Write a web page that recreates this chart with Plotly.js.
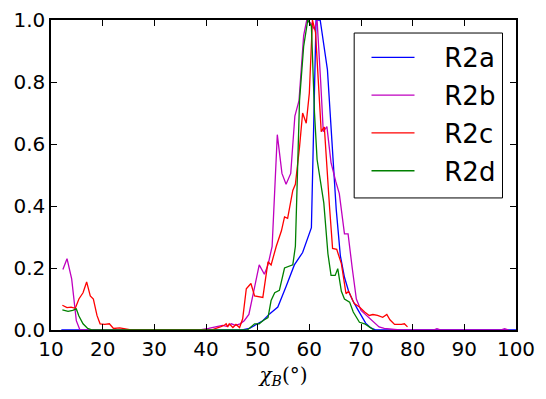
<!DOCTYPE html>
<html>
<head>
<meta charset="utf-8">
<script src="https://cdn.plot.ly/plotly-3.0.1.min.js"></script>
<style>
  html, body { margin: 0; padding: 0; background: #fff; }
  #plot { width: 546px; height: 399px; }
</style>
</head>
<body>
<div id="plot"></div>
<script>
// Values (chi_B in degrees, normalised counts)
let seriesNames = ["R2a", "R2b", "R2c", "R2d"]
let seriesColors = ["#0000ff", "#bf00bf", "#ff0000", "#008000"]

let r2aX = [12, 47, 48.4, 49.4, 51.0, 52.3, 53.9, 55.5, 57.1, 58.7, 60.4, 61.3, 62.1, 63.5, 64.4, 65.2, 66.0, 66.8, 67.6, 68.4, 69.3, 70.1, 70.9, 71.8, 72.9, 100]
let r2aY = [0, 0, 0.005, 0.015, 0.03, 0.052, 0.074, 0.14, 0.21, 0.25, 0.33, 1.0, 1.0, 0.84, 0.6, 0.39, 0.24, 0.17, 0.125, 0.095, 0.068, 0.045, 0.022, 0.008, 0, 0]

let r2bX = [12.3, 13.1, 14.0, 14.9, 15.6, 38.8, 40.5, 41.5, 42.3, 43.2, 44.0, 44.9, 45.7, 46.6, 47.4, 48.3, 49.4, 50.3, 51.3, 52.0, 52.8, 53.8, 54.7, 55.5, 56.4, 57.2, 58.0, 58.9, 59.5, 60.3, 61.0, 61.5, 62.2, 62.7, 63.4, 64.2, 65.1, 65.8, 66.8, 67.5, 68.3, 69.1, 70.0, 70.9, 71.9, 72.9, 73.5, 74.5, 76.2, 77.5, 84.0, 84.7, 85.5, 97.0, 97.8, 98.6]
let r2bY = [0.195, 0.23, 0.165, 0.03, 0, 0, 0.005, 0.01, 0.012, 0.015, 0.012, 0.02, 0.015, 0.02, 0.03, 0.05, 0.14, 0.21, 0.18, 0.21, 0.27, 0.63, 0.505, 0.47, 0.505, 0.69, 0.74, 0.95, 1.0, 0.99, 0.97, 1.0, 0.8, 0.64, 0.656, 0.54, 0.48, 0.44, 0.31, 0.31, 0.2, 0.1, 0.063, 0.05, 0.036, 0.02, 0.01, 0.005, 0.003, 0, 0, 0.004, 0, 0, 0.004, 0]

let r2cX = [12.2, 13.1, 13.9, 14.7, 15.4, 16.2, 16.9, 17.6, 18.2, 18.9, 19.5, 20.4, 21.3, 22.1, 23.3, 24.6, 25.5, 41.0, 42.0, 42.9, 43.6, 43.9, 44.2, 44.5, 45.2, 45.8, 46.5, 47.1, 47.8, 48.7, 49.4, 50.2, 51.0, 52.0, 52.6, 53.6, 54.6, 55.2, 55.8, 56.8, 57.3, 58.1, 58.7, 59.4, 60.0, 60.6, 61.2, 62.3, 62.9, 63.9, 64.5, 65.3, 66.2, 67.1, 67.6, 68.7, 69.7, 70.7, 71.6, 72.3, 73.2, 74.2, 75.0, 75.6, 76.5, 77.8, 78.4, 79.0]
let r2cY = [0.08, 0.072, 0.074, 0.07, 0.1, 0.12, 0.155, 0.11, 0.1, 0.047, 0.02, 0.018, 0.02, 0.005, 0.007, 0.003, 0, 0, 0.005, 0.011, 0.016, 0.02, 0.01, 0.02, 0.008, 0.018, 0.008, 0.036, 0.133, 0.15, 0.11, 0.107, 0.105, 0.22, 0.21, 0.27, 0.32, 0.365, 0.36, 0.45, 0.47, 0.59, 0.70, 0.667, 0.764, 1.0, 0.96, 0.64, 0.655, 0.40, 0.263, 0.26, 0.214, 0.117, 0.125, 0.085, 0.074, 0.058, 0.047, 0.05, 0.047, 0.041, 0.05, 0.033, 0.018, 0.018, 0.02, 0.01]

let r2dX = [12.2, 13.3, 14.2, 14.9, 15.4, 16.2, 17.1, 18.0, 48.0, 48.4, 49.4, 50.3, 51.0, 52.0, 52.6, 53.3, 54.2, 55.2, 56.1, 56.8, 57.3, 58.1, 58.9, 59.7, 60.4, 61.0, 61.5, 62.0, 62.8, 63.6, 64.2, 65.0, 65.5, 66.2, 66.8, 67.8, 68.5, 69.7, 70.7, 71.6, 72.5]
let r2dY = [0.065, 0.06, 0.063, 0.068, 0.045, 0.02, 0.005, 0, 0, 0.005, 0.02, 0.02, 0.03, 0.04, 0.095, 0.12, 0.128, 0.2, 0.205, 0.21, 0.27, 0.74, 0.915, 1.0, 0.98, 0.7, 0.55, 0.5, 0.41, 0.246, 0.176, 0.176, 0.198, 0.125, 0.1, 0.09, 0.058, 0.025, 0.02, 0.01, 0]

let xTicks = [10, 20, 30, 40, 50, 60, 70, 80, 90, 100]
let yTicks = [0.0, 0.2, 0.4, 0.6, 0.8, 1.0]

let xs = [r2aX, r2bX, r2cX, r2dX]
let ys = [r2aY, r2bY, r2cY, r2dY]

let data = []
for (let i in seriesNames) {
  data.push({
    x: xs[i],
    y: ys[i],
    name: "\u00a0\u00a0\u00a0" + seriesNames[i],
    legendgroup: seriesNames[i],
    type: "scatter",
    mode: "lines",
    line: { color: seriesColors[i], width: 1.3 }
  })
}

let axisStyle = {
  showline: true,
  linecolor: "black",
  linewidth: 1.5,
  mirror: "ticks",
  ticks: "inside",
  ticklen: 6,
  tickwidth: 1,
  tickcolor: "black",
  showgrid: false,
  zeroline: false,
  tickfont: { family: "DejaVu Sans", size: 20, color: "black" }
}

let layout = {
  width: 546,
  height: 399,
  margin: { l: 51, r: 30, t: 20, b: 69 },
  paper_bgcolor: "white",
  plot_bgcolor: "white",
  xaxis: Object.assign({}, axisStyle, {
    range: [10, 100],
    tickvals: xTicks,
    ticktext: xTicks.map(String),
    title: { text: "<i>χ<sub>B</sub></i>(°)", font: { family: "DejaVu Serif", size: 20, color: "black" }, standoff: 8 }
  }),
  yaxis: Object.assign({}, axisStyle, {
    range: [0, 1],
    tickvals: yTicks,
    ticktext: yTicks.map(v => v.toFixed(1))
  }),
  // legend frame, drawn as a box in paper coordinates
  shapes: [{
    type: "rect", xref: "paper", yref: "paper",
    x0: 0.652, x1: 0.971, y0: 0.426, y1: 0.958,
    line: { color: "black", width: 1 }, fillcolor: "white", layer: "above"
  }],
  showlegend: true,
  legend: {
    x: 0.6785,
    y: 0.955,
    xanchor: "left",
    yanchor: "top",
    bgcolor: "rgba(0,0,0,0)",
    borderwidth: 0,
    font: { family: "DejaVu Sans", size: 26, color: "black" },
    itemwidth: 43,
    tracegroupgap: 1
  }
}

Plotly.newPlot("plot", data, layout, { displayModeBar: false })
</script>
</body>
</html>
